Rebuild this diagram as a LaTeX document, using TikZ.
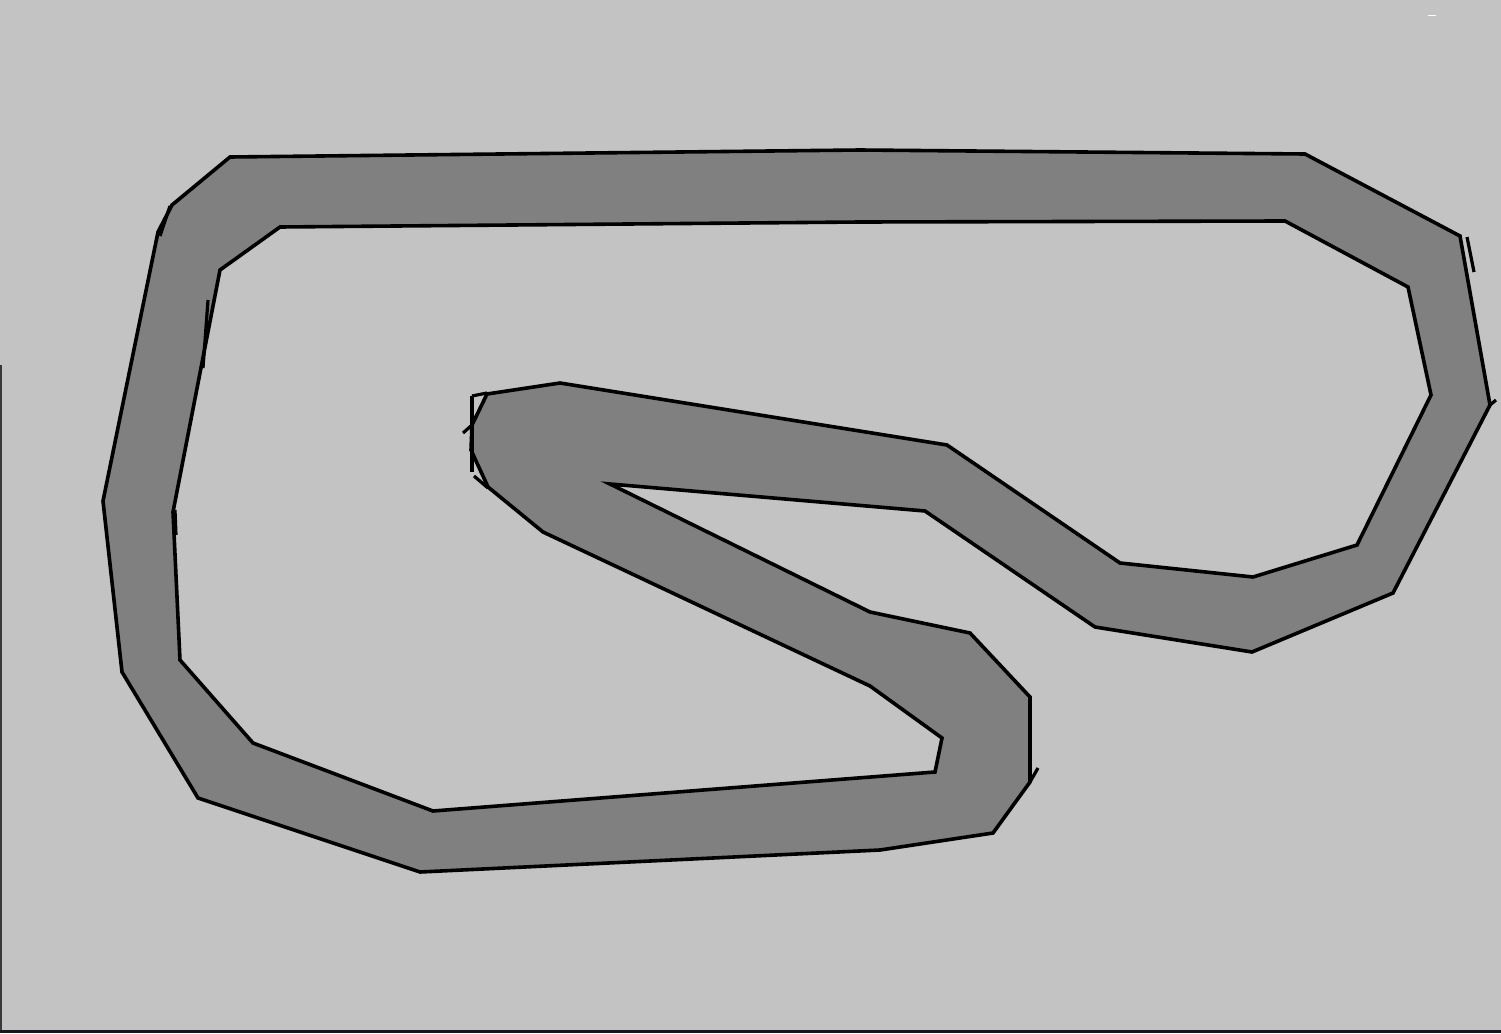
\documentclass[tikz,border=0pt]{standalone}
\usetikzlibrary{calc}
\definecolor{bg}{HTML}{C3C3C3}
\definecolor{trackgray}{HTML}{808080}
\definecolor{edgedark}{HTML}{15171A}
\tikzset{
  trackfill/.style={fill=trackgray, even odd rule},
  trackedge/.style={draw=black, line width=3.6pt, line join=miter},
  artifact/.style={draw=black, line width=3.2pt},
}
\begin{document}
\begin{tikzpicture}[x=1pt,y=-1pt]
\useasboundingbox (0,0) rectangle (1501,1033);
\fill[bg] (0,0) rectangle (1501,1033);
% track surface
\fill[trackfill]
  (230,157) -- (860,150) -- (1305,154) -- (1460,236) -- (1490,405) -- (1393,593) -- (1252,652) -- (1095,627) -- (925,511) -- (610,484) -- (870,612) -- (970,633) -- (1030,697) -- (1030,782) -- (993,833) -- (880,850) -- (420,872) -- (198,798) -- (122,672) -- (103,501) -- (158,232) -- (172,205) -- cycle
  (280,227) -- (860,222) -- (1285,221) -- (1408,287) -- (1431,395) -- (1357,545) -- (1253,577) -- (1120,563) -- (947,445) -- (560,383) -- (487,394) -- (472,425) -- (471,450) -- (488,487) -- (543,532) -- (870,686) -- (942,738) -- (935,772) -- (433,811) -- (253,743) -- (180,660) -- (173,512) -- (220,270) -- cycle;
% outer edge
\draw[trackedge]
  (230,157) -- (860,150) -- (1305,154) -- (1460,236) -- (1490,405) -- (1393,593) -- (1252,652) -- (1095,627) -- (925,511) -- (610,484) -- (870,612) -- (970,633) -- (1030,697) -- (1030,782) -- (993,833) -- (880,850) -- (420,872) -- (198,798) -- (122,672) -- (103,501) -- (158,232) -- (172,205) -- cycle;
% inner edge
\draw[trackedge]
  (280,227) -- (860,222) -- (1285,221) -- (1408,287) -- (1431,395) -- (1357,545) -- (1253,577) -- (1120,563) -- (947,445) -- (560,383) -- (487,394) -- (472,425) -- (471,450) -- (488,487) -- (543,532) -- (870,686) -- (942,738) -- (935,772) -- (433,811) -- (253,743) -- (180,660) -- (173,512) -- (220,270) -- cycle;
% small drawing artefacts along the edges
\draw[artifact] (472,396) -- (472,472);
\draw[artifact] (472,396) -- (487,393);
\draw[artifact] (474,476) -- (488,488);
\draw[artifact] (463,433) -- (472,425);
\draw[artifact] (1467,237) -- (1474,272);
\draw[artifact] (1490,405) -- (1496,400);
\draw[artifact] (1030,782) -- (1038,768);
\draw[artifact] (160,236) -- (170,206);
\draw[artifact] (175,510) -- (176,535);
\draw[artifact] (208,300) -- (203,368);
% frame edges
\draw[edgedark!80!bg, line width=1.5pt] (0.75,365) -- (0.75,1033);
\draw[edgedark, line width=3pt] (0,1031.5) -- (1501,1031.5);
\draw[white, line width=1pt] (1428,15.5) -- (1436,15.5);
\end{tikzpicture}
\end{document}
